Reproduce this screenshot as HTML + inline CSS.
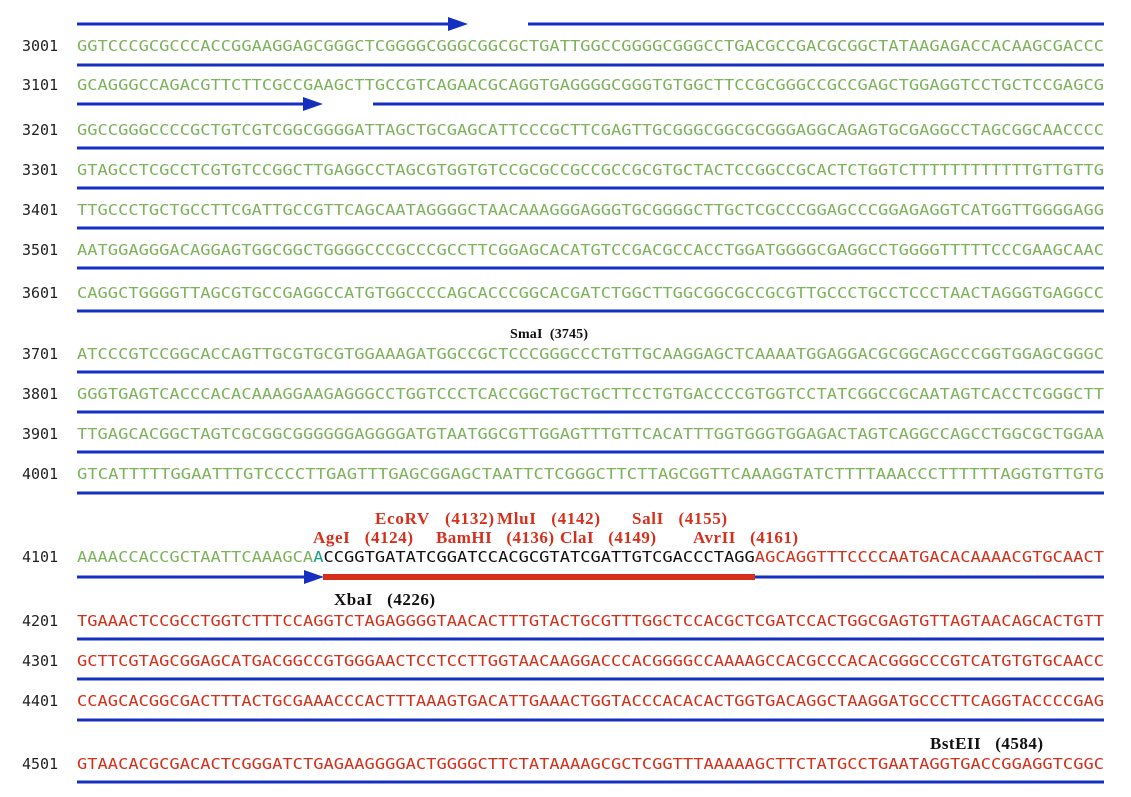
<!DOCTYPE html>
<html><head><meta charset="utf-8"><style>
body{margin:0;background:#fff;}
svg{display:block}
.n{font-family:"DejaVu Sans Mono","Liberation Mono",monospace;font-size:15px;fill:#222}
.s{font-family:"DejaVu Sans Mono","Liberation Mono",monospace;font-size:15px}
.g{fill:#7db35c}.r{fill:#d6301c}.k{fill:#111}.t{fill:#1aa08a}
.l{font-family:"Liberation Serif",serif;font-weight:bold;font-size:17px}
.lr{fill:#d6301c}.lk{fill:#111}
</style></head><body>
<svg width="1131" height="797" xmlns="http://www.w3.org/2000/svg">
<g stroke="#1530c0" stroke-width="3">
<line x1="77" y1="24" x2="455" y2="24"/><line x1="528" y1="24" x2="1104" y2="24"/>
<line x1="77" y1="65" x2="1104" y2="65"/>
<line x1="77" y1="104" x2="310" y2="104"/><line x1="373" y1="104" x2="1104" y2="104"/>
<line x1="77" y1="148" x2="1104" y2="148"/>
<line x1="77" y1="188" x2="1104" y2="188"/>
<line x1="77" y1="228" x2="1104" y2="228"/>
<line x1="77" y1="268" x2="1104" y2="268"/>
<line x1="77" y1="311" x2="1104" y2="311"/>
<line x1="77" y1="372" x2="1104" y2="372"/>
<line x1="77" y1="412" x2="1104" y2="412"/>
<line x1="77" y1="452" x2="1104" y2="452"/>
<line x1="77" y1="493" x2="1104" y2="493"/>
<line x1="77" y1="577" x2="312" y2="577"/><line x1="755" y1="577" x2="1104" y2="577"/>
<line x1="77" y1="639" x2="1104" y2="639"/>
<line x1="77" y1="679" x2="1104" y2="679"/>
<line x1="77" y1="720" x2="1104" y2="720"/>
<line x1="77" y1="782" x2="1104" y2="782"/>
</g>
<g fill="#1530c0">
<polygon points="448,17 468,24 448,31"/>
<polygon points="303,97 323,104 303,111"/>
<polygon points="304,570 324,577 304,584"/>
</g>
<rect x="323" y="574" width="432" height="6" fill="#d6301c"/>
<g class="n">
<text x="22" y="51">3001</text><text x="22" y="90">3101</text><text x="22" y="135">3201</text>
<text x="22" y="175">3301</text><text x="22" y="215">3401</text><text x="22" y="255">3501</text>
<text x="22" y="298">3601</text><text x="22" y="359">3701</text><text x="22" y="399">3801</text>
<text x="22" y="439">3901</text><text x="22" y="479">4001</text><text x="22" y="562">4101</text>
<text x="22" y="626">4201</text><text x="22" y="666">4301</text><text x="22" y="706">4401</text>
<text x="22" y="769">4501</text>
</g>
<g class="s" >
<text class="g" x="77" y="51" textLength="1027" lengthAdjust="spacingAndGlyphs">GGTCCCGCGCCCACCGGAAGGAGCGGGCTCGGGGCGGGCGGCGCTGATTGGCCGGGGCGGGCCTGACGCCGACGCGGCTATAAGAGACCACAAGCGACCC</text>
<text class="g" x="77" y="90" textLength="1027" lengthAdjust="spacingAndGlyphs">GCAGGGCCAGACGTTCTTCGCCGAAGCTTGCCGTCAGAACGCAGGTGAGGGGCGGGTGTGGCTTCCGCGGGCCGCCGAGCTGGAGGTCCTGCTCCGAGCG</text>
<text class="g" x="77" y="135" textLength="1027" lengthAdjust="spacingAndGlyphs">GGCCGGGCCCCGCTGTCGTCGGCGGGGATTAGCTGCGAGCATTCCCGCTTCGAGTTGCGGGCGGCGCGGGAGGCAGAGTGCGAGGCCTAGCGGCAACCCC</text>
<text class="g" x="77" y="175" textLength="1027" lengthAdjust="spacingAndGlyphs">GTAGCCTCGCCTCGTGTCCGGCTTGAGGCCTAGCGTGGTGTCCGCGCCGCCGCCGCGTGCTACTCCGGCCGCACTCTGGTCTTTTTTTTTTTTGTTGTTG</text>
<text class="g" x="77" y="215" textLength="1027" lengthAdjust="spacingAndGlyphs">TTGCCCTGCTGCCTTCGATTGCCGTTCAGCAATAGGGGCTAACAAAGGGAGGGTGCGGGGCTTGCTCGCCCGGAGCCCGGAGAGGTCATGGTTGGGGAGG</text>
<text class="g" x="77" y="255" textLength="1027" lengthAdjust="spacingAndGlyphs">AATGGAGGGACAGGAGTGGCGGCTGGGGCCCGCCCGCCTTCGGAGCACATGTCCGACGCCACCTGGATGGGGCGAGGCCTGGGGTTTTTCCCGAAGCAAC</text>
<text class="g" x="77" y="298" textLength="1027" lengthAdjust="spacingAndGlyphs">CAGGCTGGGGTTAGCGTGCCGAGGCCATGTGGCCCCAGCACCCGGCACGATCTGGCTTGGCGGCGCCGCGTTGCCCTGCCTCCCTAACTAGGGTGAGGCC</text>
<text class="g" x="77" y="359" textLength="1027" lengthAdjust="spacingAndGlyphs">ATCCCGTCCGGCACCAGTTGCGTGCGTGGAAAGATGGCCGCTCCCGGGCCCTGTTGCAAGGAGCTCAAAATGGAGGACGCGGCAGCCCGGTGGAGCGGGC</text>
<text class="g" x="77" y="399" textLength="1027" lengthAdjust="spacingAndGlyphs">GGGTGAGTCACCCACACAAAGGAAGAGGGCCTGGTCCCTCACCGGCTGCTGCTTCCTGTGACCCCGTGGTCCTATCGGCCGCAATAGTCACCTCGGGCTT</text>
<text class="g" x="77" y="439" textLength="1027" lengthAdjust="spacingAndGlyphs">TTGAGCACGGCTAGTCGCGGCGGGGGGAGGGGATGTAATGGCGTTGGAGTTTGTTCACATTTGGTGGGTGGAGACTAGTCAGGCCAGCCTGGCGCTGGAA</text>
<text class="g" x="77" y="479" textLength="1027" lengthAdjust="spacingAndGlyphs">GTCATTTTTGGAATTTGTCCCCTTGAGTTTGAGCGGAGCTAATTCTCGGGCTTCTTAGCGGTTCAAAGGTATCTTTTAAACCCTTTTTTAGGTGTTGTG</text>
<text x="77" y="562" textLength="1027" lengthAdjust="spacingAndGlyphs"><tspan class="g">AAAACCACCGCTAATTCAAAGCA</tspan><tspan class="t">A</tspan><tspan class="k">CCGGTGATATCGGATCCACGCGTATCGATTGTCGACCCTAGG</tspan><tspan class="r">AGCAGGTTTCCCCAATGACACAAAACGTGCAACT</tspan></text>
<text class="r" x="77" y="626" textLength="1027" lengthAdjust="spacingAndGlyphs">TGAAACTCCGCCTGGTCTTTCCAGGTCTAGAGGGGTAACACTTTGTACTGCGTTTGGCTCCACGCTCGATCCACTGGCGAGTGTTAGTAACAGCACTGTT</text>
<text class="r" x="77" y="666" textLength="1027" lengthAdjust="spacingAndGlyphs">GCTTCGTAGCGGAGCATGACGGCCGTGGGAACTCCTCCTTGGTAACAAGGACCCACGGGGCCAAAAGCCACGCCCACACGGGCCCGTCATGTGTGCAACC</text>
<text class="r" x="77" y="706" textLength="1027" lengthAdjust="spacingAndGlyphs">CCAGCACGGCGACTTTACTGCGAAACCCACTTTAAAGTGACATTGAAACTGGTACCCACACACTGGTGACAGGCTAAGGATGCCCTTCAGGTACCCCGAG</text>
<text class="r" x="77" y="769" textLength="1027" lengthAdjust="spacingAndGlyphs">GTAACACGCGACACTCGGGATCTGAGAAGGGGACTGGGGCTTCTATAAAAGCGCTCGGTTTAAAAAGCTTCTATGCCTGAATAGGTGACCGGAGGTCGGC</text>
</g>
<g class="l">
<text class="lk" x="510" y="338" style="font-size:14px" textLength="78">SmaI&#160;&#160;(3745)</text>
<text class="lr" x="375" y="524" textLength="119">EcoRV&#160;&#160;&#160;(4132)</text>
<text class="lr" x="497" y="524" textLength="103">MluI&#160;&#160;&#160;(4142)</text>
<text class="lr" x="632" y="524" textLength="95">SalI&#160;&#160;&#160;(4155)</text>
<text class="lr" x="313" y="543" textLength="100">AgeI&#160;&#160;&#160;(4124)</text>
<text class="lr" x="436" y="543" textLength="118">BamHI&#160;&#160;&#160;(4136)</text>
<text class="lr" x="560" y="543" textLength="96">ClaI&#160;&#160;&#160;(4149)</text>
<text class="lr" x="693" y="543" textLength="105">AvrII&#160;&#160;&#160;(4161)</text>
<text class="lk" x="334" y="605" textLength="101">XbaI&#160;&#160;&#160;(4226)</text>
<text class="lk" x="930" y="749" textLength="113">BstEII&#160;&#160;&#160;(4584)</text>
</g>
</svg>
</body></html>
